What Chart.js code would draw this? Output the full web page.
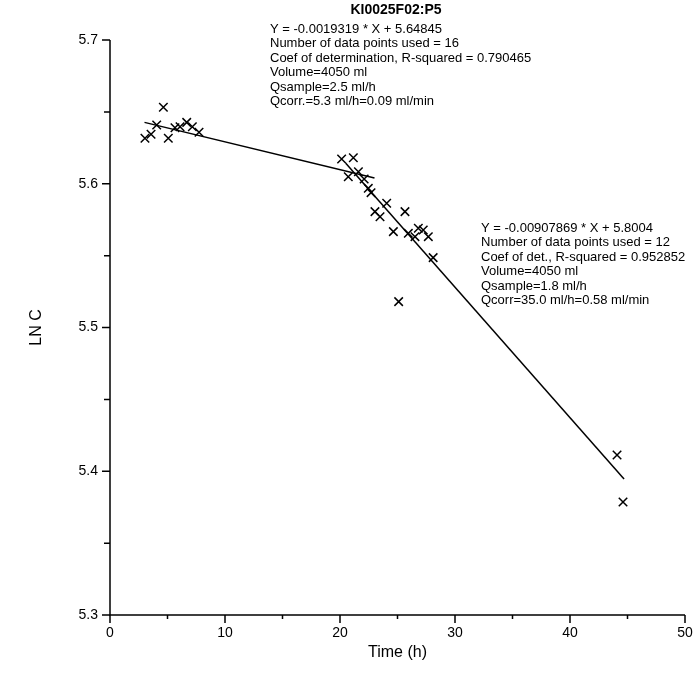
<!DOCTYPE html>
<html lang="en">
<head>
    <meta charset="UTF-8">
    <title>KI0025F02:P5</title>
    <script src="https://cdn.jsdelivr.net/npm/chart.js@4/dist/chart.umd.min.js"></script>
    <style>
        html, body { margin: 0; padding: 0; background: #ffffff; }
        #wrap { width: 696px; height: 691px; }
    </style>
</head>
<body>
    <div id="wrap"><canvas id="chart" width="696" height="691"></canvas></div>

    <script>
        // measured points (time in hours, ln of concentration)
        const timeH = [3.04, 3.57, 4.06, 4.64, 5.07, 5.65, 6.09, 6.67, 7.16, 7.74,
                       20.14, 20.72, 21.16, 21.6, 22.1, 22.46, 22.7, 23.04, 23.48, 24.06,
                       24.64, 25.1, 25.65, 25.94, 26.52, 26.81, 27.24, 27.68, 28.1, 44.09, 44.61];
        const lnC = [5.6316, 5.6344, 5.6409, 5.6532, 5.6316, 5.639, 5.6397, 5.6427, 5.6397, 5.6358,
                     5.6172, 5.6049, 5.6181, 5.6084, 5.6033, 5.5968, 5.5938, 5.5806, 5.5771, 5.5864,
                     5.5667, 5.5180, 5.5806, 5.5655, 5.5632, 5.569, 5.5678, 5.5632, 5.5486, 5.4113, 5.3786];

        // fitted lines, end points
        const fit1X = [3.0, 23.0];
        const fit1Y = [5.6427, 5.6040];
        const fit2X = [20.5, 44.7];
        const fit2Y = [5.6143, 5.3946];

        // axis ticks
        const xMajor = [0, 10, 20, 30, 40, 50];
        const xMinor = [5, 15, 25, 35, 45];
        const yMajor = [5.3, 5.4, 5.5, 5.6, 5.7];
        const yMinor = [5.35, 5.45, 5.55, 5.65];

        const note1 = [
            'Y = -0.0019319 * X + 5.64845',
            'Number of data points used = 16',
            'Coef of determination, R-squared = 0.790465',
            'Volume=4050 ml',
            'Qsample=2.5 ml/h',
            'Qcorr.=5.3 ml/h=0.09 ml/min'
        ];
        const note2 = [
            'Y = -0.00907869 * X + 5.8004',
            'Number of data points used = 12',
            'Coef of det., R-squared = 0.952852',
            'Volume=4050 ml',
            'Qsample=1.8 ml/h',
            'Qcorr=35.0 ml/h=0.58 ml/min'
        ];

        const fuente = "'Liberation Sans', Arial, sans-serif";

        const puntos = timeH.map((t, i) => ({ x: t, y: lnC[i] }));
        const linea1 = fit1X.map((t, i) => ({ x: t, y: fit1Y[i] }));
        const linea2 = fit2X.map((t, i) => ({ x: t, y: fit2Y[i] }));

        // ejes, marcas y textos dibujados a mano
        const marco = {
            id: 'marco',
            afterDraw(chart) {
                const ctx = chart.ctx;
                const xs = chart.scales.x;
                const ys = chart.scales.y;
                const area = chart.chartArea;
                ctx.save();
                ctx.strokeStyle = '#000';
                ctx.fillStyle = '#000';
                ctx.lineWidth = 1.5;

                // ejes
                ctx.beginPath();
                ctx.moveTo(area.left, area.top);
                ctx.lineTo(area.left, area.bottom);
                ctx.lineTo(area.right, area.bottom);
                ctx.stroke();

                // marcas eje x
                ctx.beginPath();
                xMajor.forEach(v => {
                    const px = xs.getPixelForValue(v);
                    ctx.moveTo(px, area.bottom);
                    ctx.lineTo(px, area.bottom + 8);
                });
                xMinor.forEach(v => {
                    const px = xs.getPixelForValue(v);
                    ctx.moveTo(px, area.bottom);
                    ctx.lineTo(px, area.bottom + 4);
                });
                // marcas eje y
                yMajor.forEach(v => {
                    const py = ys.getPixelForValue(v);
                    ctx.moveTo(area.left, py);
                    ctx.lineTo(area.left - 8, py);
                });
                yMinor.forEach(v => {
                    const py = ys.getPixelForValue(v);
                    ctx.moveTo(area.left, py);
                    ctx.lineTo(area.left - 6, py);
                });
                ctx.stroke();

                // etiquetas
                ctx.font = '14px ' + fuente;
                ctx.textAlign = 'center';
                ctx.textBaseline = 'middle';
                xMajor.forEach(v => {
                    ctx.fillText(String(v), xs.getPixelForValue(v), area.bottom + 18);
                });
                ctx.textAlign = 'right';
                yMajor.forEach(v => {
                    ctx.fillText(v.toFixed(1), area.left - 12, ys.getPixelForValue(v));
                });

                // titulos de ejes
                ctx.font = '16px ' + fuente;
                ctx.textAlign = 'center';
                ctx.fillText('Time (h)', xs.getPixelForValue(25), area.bottom + 38);
                ctx.save();
                ctx.translate(37, ys.getPixelForValue(5.5));
                ctx.rotate(-Math.PI / 2);
                ctx.fillText('LN C', 0, 0);
                ctx.restore();

                // titulo
                ctx.font = 'bold 14px ' + fuente;
                ctx.fillText('KI0025F02:P5', 396, 10);

                // notas de las rectas
                ctx.font = '13px ' + fuente;
                ctx.textAlign = 'left';
                note1.forEach((s, i) => ctx.fillText(s, 270, 29 + i * 14.5));
                note2.forEach((s, i) => ctx.fillText(s, 481, 228 + i * 14.5));
                ctx.restore();
            }
        };

        new Chart(document.getElementById('chart'), {
            type: 'scatter',
            data: {
                datasets: [
                    {
                        label: 'LN C',
                        data: puntos,
                        pointStyle: 'crossRot',
                        pointRadius: 6,
                        pointBorderColor: '#000',
                        pointBorderWidth: 1.5,
                        showLine: false
                    },
                    {
                        label: 'fit 1',
                        data: linea1,
                        showLine: true,
                        borderColor: '#000',
                        borderWidth: 1.5,
                        pointRadius: 0
                    },
                    {
                        label: 'fit 2',
                        data: linea2,
                        showLine: true,
                        borderColor: '#000',
                        borderWidth: 1.5,
                        pointRadius: 0
                    }
                ]
            },
            options: {
                responsive: false,
                animation: false,
                layout: { padding: { left: 0, right: 11, top: 40, bottom: 0 } },
                plugins: {
                    legend: { display: false },
                    tooltip: { enabled: false }
                },
                scales: {
                    x: {
                        type: 'linear',
                        min: 0,
                        max: 50,
                        ticks: { display: false },
                        grid: { display: false },
                        border: { display: false },
                        afterFit: function(escala) { escala.height = 76; }
                    },
                    y: {
                        type: 'linear',
                        min: 5.3,
                        max: 5.7,
                        ticks: { display: false },
                        grid: { display: false },
                        border: { display: false },
                        afterFit: function(escala) { escala.width = 110; }
                    }
                }
            },
            plugins: [marco]
        });
    </script>
</body>
</html>
